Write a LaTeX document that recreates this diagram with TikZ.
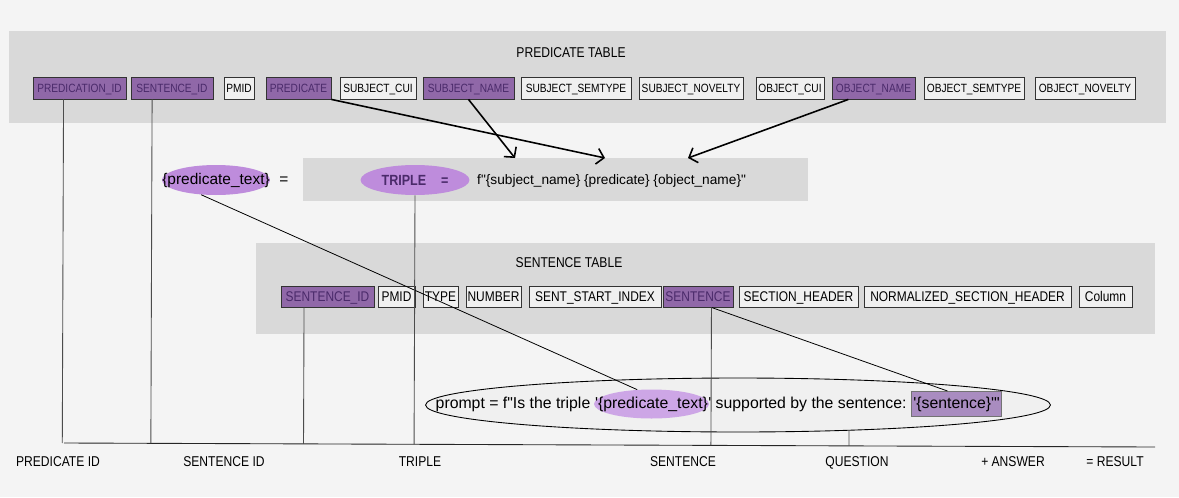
\documentclass[tikz,border=0pt]{standalone}
\usepackage{fontspec}
\setmainfont{Liberation Sans}[Ligatures=TeXOff]
\newfontfamily\narrowfont{Liberation Sans}[FakeStretch=0.85, Ligatures=TeXOff]
\usetikzlibrary{shapes.geometric, calc, arrows.meta}

\definecolor{paper}{HTML}{F4F4F4}
\definecolor{band}{HTML}{D9D9D9}
\definecolor{keyfill}{HTML}{9068A8}
\definecolor{keytext}{HTML}{4A2A6A}
\definecolor{cellfill}{HTML}{F0F0F0}
\definecolor{pill}{HTML}{BE8CDC}
\definecolor{pilllight}{HTML}{CDA6E6}
\definecolor{sentfill}{HTML}{A98CC0}

\tikzset{
  col/.style={draw=black!80, fill=cellfill, line width=0.5pt, inner sep=0pt, text=black},
  key/.style={col, fill=keyfill, text=keytext},
  predcell/.style={minimum height=0.44cm, text height=4.9pt, text depth=0pt, font=\narrowfont\fontsize{6.8}{8}\selectfont},
  sentcell/.style={minimum height=0.42cm, text height=5.7pt, text depth=0pt, font=\narrowfont\fontsize{8}{9}\selectfont},
  title/.style={font=\narrowfont\fontsize{8.1}{9}\selectfont},
  bottomlabel/.style={anchor=base, font=\narrowfont\fontsize{8.1}{9}\selectfont},
  oval/.style={ellipse, fill=pill, inner xsep=-9pt, inner ysep=0pt, minimum height=0.6cm},
  pillar/.style={draw=black!70, line width=0.5pt},
  feed/.style={draw=black, line width=0.9pt, -{Straight Barb[length=4pt, width=9pt, line width=0.9pt]}},
  thin/.style={draw=black, line width=0.45pt}
}

\begin{document}
\begin{tikzpicture}[x=0.02cm, y=-0.02cm]
  \fill[paper] (0,0) rectangle (1179,497);

  % predicate table
  \fill[band] (9,31) rectangle (1166,123);
  \node[title] (predtitle) at (571,53) {PREDICATE TABLE};
  \foreach \l/\r/\n/\t/\k in {33/126/pid/PREDICATION\_ID/key, 131/213/psid/SENTENCE\_ID/key,
      224/254/ppmid/PMID/col, 266/331/pred/PREDICATE/key, 340/416/subjcui/SUBJECT\_CUI/col,
      423/514/subjname/SUBJECT\_NAME/key, 521/631/subjsem/SUBJECT\_SEMTYPE/col,
      639/743/subjnov/SUBJECT\_NOVELTY/col, 756/824/objcui/OBJECT\_CUI/col,
      832/915/objname/OBJECT\_NAME/key, 924/1024/objsem/OBJECT\_SEMTYPE/col,
      1035/1135/objnov/OBJECT\_NOVELTY/col}
    \node[\k, predcell, minimum width={(\r-\l)*0.02cm}] (\n) at ({(\l+\r)/2},88) {\t};

  % triple
  \fill[band] (303,158) rectangle (808,201);
  \coordinate (tipS) at (515,158);
  \coordinate (tipP) at (605,158);
  \coordinate (tipO) at (688,158);
  \node[oval, minimum width=2.18cm, font=\narrowfont\bfseries\fontsize{8.4}{9}\selectfont, text=keytext] (triple) at (415,180) {TRIPLE\quad=};
  \node[anchor=west, font=\fontsize{7.8}{9}\selectfont] (fstring) at (471,181) {f"\{subject\_name\} \{predicate\} \{object\_name\}"};
  \node[oval, minimum width=2.16cm, font=\fontsize{8.8}{10}\selectfont] (ptext) at (216,180) {\{predicate\_text\}};
  \node[font=\fontsize{8.8}{10}\selectfont] (eq) at (284,181) {=};

  \draw[feed] (subjname.south) -- (tipS);
  \draw[feed] (pred.south east) -- (tipP);
  \draw[feed] ($(objname.south west)!0.2!(objname.south east)$) -- (tipO);

  % sentence table
  \fill[band] (256,243) rectangle (1155,334);
  \node[title] (senttitle) at (569,263) {SENTENCE TABLE};
  \foreach \l/\r/\n/\t/\k in {281/374/ssid/SENTENCE\_ID/key, 378/415/spmid/PMID/col,
      423/458/stype/TYPE/col, 466/521/snum/NUMBER/col, 529/661/sstart/SENT\_START\_INDEX/col,
      663/733/sent/SENTENCE/key, 739/858/shead/SECTION\_HEADER/col,
      864/1071/snorm/NORMALIZED\_SECTION\_HEADER/col, 1079/1132/scol/Column/col}
    \node[\k, sentcell, minimum width={(\r-\l)*0.02cm}] (\n) at ({(\l+\r)/2},296.5) {\t};

  % prompt
  \node[ellipse, draw=black, fill=black!6, line width=0.5pt, minimum width=12.5cm, minimum height=1.08cm] (prompt) at (738,405) {};
  \node[oval, fill=pilllight, minimum width=2.18cm, minimum height=0.58cm, font=\fontsize{9}{10}\selectfont] (ptextb) at (651.5,404) {'\{predicate\_text\}};
  \node[anchor=base east, inner xsep=0pt, font=\fontsize{9}{10}\selectfont] (p1) at (ptextb.text) {prompt = f"Is the triple\ \null};
  \node[anchor=base west, inner xsep=0pt, font=\fontsize{9}{10}\selectfont] (p2) at ($(ptextb.text)!2!(ptextb.text -| ptextb.center)$) {' supported by the sentence:\ \null};
  \node[anchor=base west, draw=black!55, fill=sentfill, inner xsep=1pt, inner ysep=3pt, font=\fontsize{9}{10}\selectfont] (sentbox) at (p2.base east) {'\{sentence\}'"};

  \coordinate (sentfoot) at ($(sent.south west)!0.69!(sent.south east)$);
  \draw[thin] (ptext.225) -- (ptextb.135);
  \draw[thin] (sentfoot) -- ($(sentbox.north west)!0.4!(sentbox.north east)$);

  % bottom line
  \coordinate (axisL) at (64,443);
  \coordinate (axisR) at (1155,447);
  \draw[pillar, draw=black!85] (axisL) -- (axisR);
  \coordinate (f1) at ($(pid.south west)!0.33!(pid.south east)$);
  \coordinate (f2) at ($(psid.south west)!0.26!(psid.south east)$);
  \coordinate (f3) at ($(ssid.south west)!0.25!(ssid.south east)$);
  \foreach \f in {f1,f2,f3,triple.south,sentfoot,prompt.347}
    \draw[pillar] (\f) -- ($(axisL)!(\f)!(axisR)$);

  \foreach \x/\n/\t in {58/lpid/PREDICATE ID, 224/lsid/SENTENCE ID, 420/ltriple/TRIPLE,
      683/lsent/SENTENCE, 857/lquest/QUESTION, 1013/lans/+ ANSWER, 1115/lres/= RESULT}
    \node[bottomlabel] (\n) at (\x,466) {\t};
\end{tikzpicture}
\end{document}
